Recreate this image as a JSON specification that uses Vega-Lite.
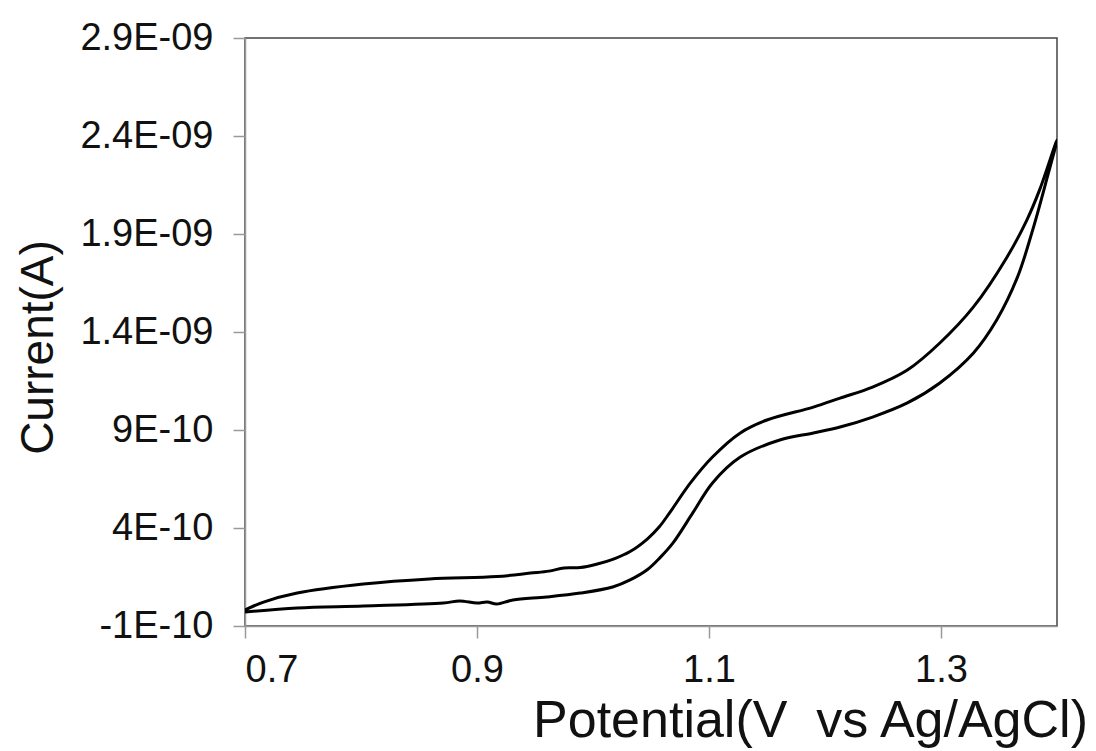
{
  "$schema": "https://vega.github.io/schema/vega-lite/v6.json",
  "width": 812,
  "height": 588,
  "autosize": "none",
  "padding": {"left": 245, "top": 38, "right": 39, "bottom": 125},
  "background": "white",
  "config": {
    "view": {"stroke": "#444444", "strokeWidth": 1.5},
    "font": "Liberation Sans"
  },
  "data": {
    "values": [
      {"i": 1, "E": 0.700, "I": -2.9e-11},
      {"i": 2, "E": 0.745, "I": -8e-12},
      {"i": 3, "E": 0.802, "I": 2e-12},
      {"i": 4, "E": 0.871, "I": 1.7e-11},
      {"i": 5, "E": 0.885, "I": 2.8e-11},
      {"i": 6, "E": 0.900, "I": 1.7e-11},
      {"i": 7, "E": 0.909, "I": 2.2e-11},
      {"i": 8, "E": 0.917, "I": 1.2e-11},
      {"i": 9, "E": 0.931, "I": 3.3e-11},
      {"i": 10, "E": 0.960, "I": 4.8e-11},
      {"i": 11, "E": 0.989, "I": 6.8e-11},
      {"i": 12, "E": 1.017, "I": 9.9e-11},
      {"i": 13, "E": 1.032, "I": 1.35e-10},
      {"i": 14, "E": 1.047, "I": 1.88e-10},
      {"i": 15, "E": 1.058, "I": 2.5e-10},
      {"i": 16, "E": 1.069, "I": 3.24e-10},
      {"i": 17, "E": 1.086, "I": 4.77e-10},
      {"i": 18, "E": 1.103, "I": 6.30e-10},
      {"i": 19, "E": 1.127, "I": 7.62e-10},
      {"i": 20, "E": 1.161, "I": 8.49e-10},
      {"i": 21, "E": 1.190, "I": 8.85e-10},
      {"i": 22, "E": 1.213, "I": 9.15e-10},
      {"i": 23, "E": 1.241, "I": 9.66e-10},
      {"i": 24, "E": 1.271, "I": 1.038e-9},
      {"i": 25, "E": 1.299, "I": 1.140e-9},
      {"i": 26, "E": 1.328, "I": 1.293e-9},
      {"i": 27, "E": 1.348, "I": 1.461e-9},
      {"i": 28, "E": 1.366, "I": 1.681e-9},
      {"i": 29, "E": 1.379, "I": 1.920e-9},
      {"i": 30, "E": 1.391, "I": 2.176e-9},
      {"i": 31, "E": 1.400, "I": 2.380e-9},
      {"i": 32, "E": 1.385, "I": 2.125e-9},
      {"i": 33, "E": 1.374, "I": 1.971e-9},
      {"i": 34, "E": 1.357, "I": 1.783e-9},
      {"i": 35, "E": 1.328, "I": 1.528e-9},
      {"i": 36, "E": 1.299, "I": 1.344e-9},
      {"i": 37, "E": 1.271, "I": 1.206e-9},
      {"i": 38, "E": 1.241, "I": 1.119e-9},
      {"i": 39, "E": 1.213, "I": 1.063e-9},
      {"i": 40, "E": 1.190, "I": 1.017e-9},
      {"i": 41, "E": 1.150, "I": 9.51e-10},
      {"i": 42, "E": 1.127, "I": 8.85e-10},
      {"i": 43, "E": 1.103, "I": 7.62e-10},
      {"i": 44, "E": 1.084, "I": 6.30e-10},
      {"i": 45, "E": 1.066, "I": 4.77e-10},
      {"i": 46, "E": 1.057, "I": 4.05e-10},
      {"i": 47, "E": 1.047, "I": 3.45e-10},
      {"i": 48, "E": 1.032, "I": 2.80e-10},
      {"i": 49, "E": 1.017, "I": 2.40e-10},
      {"i": 50, "E": 1.003, "I": 2.15e-10},
      {"i": 51, "E": 0.989, "I": 1.98e-10},
      {"i": 52, "E": 0.975, "I": 1.96e-10},
      {"i": 53, "E": 0.962, "I": 1.80e-10},
      {"i": 54, "E": 0.946, "I": 1.70e-10},
      {"i": 55, "E": 0.917, "I": 1.52e-10},
      {"i": 56, "E": 0.859, "I": 1.40e-10},
      {"i": 57, "E": 0.802, "I": 1.14e-10},
      {"i": 58, "E": 0.745, "I": 6.8e-11},
      {"i": 59, "E": 0.716, "I": 2.2e-11},
      {"i": 60, "E": 0.700, "I": -1.8e-11}
    ]
  },
  "mark": {"type": "line", "color": "#000000", "strokeWidth": 3, "interpolate": "catmull-rom", "clip": true},
  "encoding": {
    "x": {
      "field": "E",
      "type": "quantitative",
      "scale": {"domain": [0.7, 1.4], "nice": false, "zero": false},
      "axis": {
        "values": [0.7, 0.9, 1.1, 1.3],
        "format": ".1f",
        "grid": false,
        "domainColor": "#999999",
        "domainWidth": 1.5,
        "tickColor": "#999999",
        "tickSize": 12,
        "tickWidth": 1.5,
        "labelFontSize": 38,
        "labelColor": "#111111",
        "labelPadding": 13,
        "labelFont": "Liberation Sans",
        "title": "Potential(V\u00a0 vs Ag/AgCl)",
        "titleFont": "Liberation Sans",
        "titleFontSize": 52,
        "titleFontWeight": "normal",
        "titleColor": "#111111",
        "titleX": 565,
        "titleY": 110,
        "titleAlign": "center",
        "titleBaseline": "alphabetic"
      }
    },
    "y": {
      "field": "I",
      "type": "quantitative",
      "scale": {"domain": [-1e-10, 2.9e-9], "nice": false, "zero": false},
      "axis": {
        "values": [-1e-10, 4e-10, 9e-10, 1.4e-9, 1.9e-9, 2.4e-9, 2.9e-9],
        "labelExpr": "['-1E-10','4E-10','9E-10','1.4E-09','1.9E-09','2.4E-09','2.9E-09'][round((datum.value + 1e-10) / 5e-10)]",
        "grid": false,
        "domainColor": "#999999",
        "domainWidth": 1.5,
        "tickColor": "#999999",
        "tickSize": 12,
        "tickWidth": 1.5,
        "labelFontSize": 38,
        "labelColor": "#111111",
        "labelPadding": 20,
        "labelFont": "Liberation Sans",
        "title": "Current(A)",
        "titleFont": "Liberation Sans",
        "titleFontSize": 46,
        "titleFontWeight": "normal",
        "titleColor": "#111111",
        "titleAngle": 270,
        "titleX": -207,
        "titleY": 309,
        "titleAlign": "center",
        "titleBaseline": "middle"
      }
    },
    "order": {"field": "i", "type": "quantitative"}
  }
}
